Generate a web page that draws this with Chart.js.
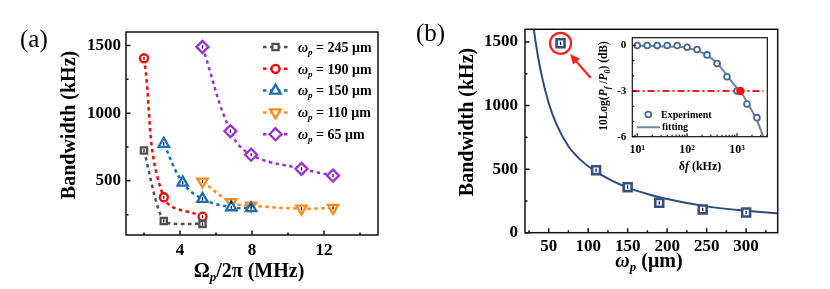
<!DOCTYPE html>
<html>
<head>
<meta charset="utf-8">
<script src="https://cdn.jsdelivr.net/npm/chart.js@4.4.1/dist/chart.umd.min.js"></script>
<style>
html, body { margin: 0; padding: 0; background: #fff; }
#wrap { position: relative; width: 830px; height: 289px; overflow: hidden; }
canvas { position: absolute; }
</style>
</head>
<body>
<div id="wrap">
  <canvas id="chartA" width="415" height="289" style="left:0;top:0"></canvas>
  <canvas id="chartB" width="415" height="289" style="left:415px;top:0"></canvas>
  <canvas id="chartInset" width="185" height="150" style="left:590px;top:25px"></canvas>
</div>
<script>
// Panel (a): bandwidth vs Omega_p/2pi (MHz), one series per beam waist
const rabi245 = [2.0, 3.1, 5.25];
const bw245 = [724, 204, 182];
const rabi190 = [2.0, 3.1, 5.25];
const bw190 = [1406, 379, 236];
const rabi150 = [3.1, 4.15, 5.25, 6.85, 7.95];
const bw150 = [774, 487, 367, 305, 298];
const rabi110 = [5.25, 6.85, 7.95, 10.75, 12.5];
const bw110 = [495, 342, 317, 295, 300];
const rabi65 = [5.25, 6.8, 7.95, 10.75, 12.5];
const bw65 = [1490, 868, 693, 589, 539];
const waistLabelsA = ['245', '190', '150', '110', '65'];
const xTicksA = [4, 8, 12];
const xMinorA = [2, 6, 10, 14];
const yTicksA = [500, 1000, 1500];
const yMinorA = [250, 750, 1250];

// Panel (b): bandwidth vs beam waist omega_p (um) + fitting curve
const waistB = [65, 110, 150, 190, 245, 300];
const bwB = [1490, 492, 358, 235, 183, 159];
const fitWaist = [30, 35, 40, 50, 60, 75, 90, 110, 130, 150, 175, 200, 250, 300, 340];
const fitBw = [1650, 1440, 1270, 1020, 850, 680, 575, 480, 410, 355, 305, 265, 207, 172, 152];
const xTicksB = [50, 100, 150, 200, 250, 300];
const xMinorB = [25, 75, 125, 175, 225, 275, 325];
const yTicksB = [0, 500, 1000, 1500];
const yMinorB = [250, 750, 1250];
// red circle + arrow pointing at the first point (data units)
const arrowFrom = [103, 1219];
const arrowTo = [77, 1405];

// Inset: 10Log(Pf/P0) vs detuning (kHz)
const expDf = [10, 15.8, 25.1, 39.8, 63.1, 100, 158, 251, 398, 631, 1000, 1585, 2512];
const expDb = [-0.02, -0.01, -0.02, -0.01, -0.02, -0.13, -0.28, -0.63, -1.2, -2.06, -3.0, -3.85, -4.75];
const fitDf = [10, 25, 63, 100, 158, 251, 398, 631, 1000, 1170, 1585, 2512, 3400];
const fitDb = [-0.03, -0.05, -0.1, -0.17, -0.33, -0.66, -1.16, -1.98, -2.8, -3.0, -3.72, -4.92, -6.05];
const halfDf = [1170];
const halfDb = [-3.0];
const refDf = [8, 3400];
const refDb = [-3, -3];
const xTicksIn = [10, 100, 1000];
const xTickLabelsIn = ['10\u00B9', '10\u00B2', '10\u00B3'];
const xMinorIn = [9, 20, 30, 40, 50, 60, 70, 80, 90, 200, 300, 400, 500, 600, 700, 800, 900, 2000, 3000, 4000];
const yTicksIn = [-6, -3, 0];
const yMinorIn = [-5, -4, -2, -1];

const SERIF = '"Liberation Serif", "Times New Roman", serif';
const font = (size, style) => `${style || 'bold'} ${size}px ${SERIF}`;
const pts = (xs, ys) => xs.map((x, i) => ({ x: x, y: ys[i] }));

// draw text made of several runs (for italics and subscripts)
function richText(ctx, parts, x, y, align, rot) {
    ctx.save();
    ctx.translate(x, y);
    if (rot) ctx.rotate(rot);
    ctx.textBaseline = 'alphabetic';
    ctx.textAlign = 'left';
    let total = 0;
    const widths = parts.map(p => {
        ctx.font = p.font;
        const w = ctx.measureText(p.t).width;
        total += w;
        return w;
    });
    let cx = align === 'center' ? -total / 2 : (align === 'right' ? -total : 0);
    parts.forEach((p, i) => {
        ctx.font = p.font;
        ctx.fillStyle = p.color || '#000';
        ctx.fillText(p.t, cx, p.dy || 0);
        cx += widths[i];
    });
    ctx.restore();
}

// box around plot + inward tick marks on bottom and left
function drawBox(chart, spec) {
    const ctx = chart.ctx, a = chart.chartArea;
    const sx = chart.scales.x, sy = chart.scales.y;
    ctx.save();
    ctx.setLineDash([]);
    ctx.strokeStyle = '#111';
    ctx.lineWidth = spec.lw || 1.5;
    ctx.beginPath();
    const tick = (vals, len, horiz) => vals.forEach(v => {
        if (horiz) {
            const p = sx.getPixelForValue(v);
            ctx.moveTo(p, a.bottom); ctx.lineTo(p, a.bottom - len);
        } else {
            const p = sy.getPixelForValue(v);
            ctx.moveTo(a.left, p); ctx.lineTo(a.left + len, p);
        }
    });
    tick(spec.xMajor, spec.major || 4.5, true);
    tick(spec.xMinor, spec.minor || 2.5, true);
    tick(spec.yMajor, spec.major || 4.5, false);
    tick(spec.yMinor, spec.minor || 2.5, false);
    ctx.stroke();
    ctx.strokeRect(a.left, a.top, a.right - a.left, a.bottom - a.top);
    ctx.restore();
}

// small black error bars in the middle of the markers
function drawErrTicks(chart) {
    const ctx = chart.ctx;
    ctx.save();
    ctx.setLineDash([]);
    ctx.strokeStyle = '#000';
    ctx.lineWidth = 1.2;
    chart.data.datasets.forEach((ds, i) => {
        if (!ds.errTick) return;
        chart.getDatasetMeta(i).data.forEach(p => {
            ctx.beginPath();
            ctx.moveTo(p.x, p.y - 1.6);
            ctx.lineTo(p.x, p.y + 1.6);
            ctx.stroke();
        });
    });
    ctx.restore();
}

function markerOf(ds, ctx, x, y) {
    ctx.save();
    ctx.setLineDash([]);
    ctx.fillStyle = ds.pointBackgroundColor;
    ctx.strokeStyle = ds.pointBorderColor;
    ctx.lineWidth = ds.pointBorderWidth;
    Chart.helpers.drawPoint(ctx, {
        pointStyle: ds.pointStyle, radius: ds.pointRadius,
        rotation: ds.pointRotation || 0, borderWidth: ds.pointBorderWidth
    }, x, y);
    ctx.restore();
}

function seriesA(xs, ys, color, style, radius, rot, tension) {
    return {
        data: pts(xs, ys), showLine: true,
        borderColor: color, borderWidth: 2.5, borderDash: [3.5, 3.5],
        tension: tension,
        pointStyle: style, pointRadius: radius, pointRotation: rot,
        pointBorderColor: color, pointBackgroundColor: '#fff', pointBorderWidth: 2.3,
        errTick: true
    };
}

function axisOpts(min, max, ticks, pad, size, fitFn, extra) {
    return Object.assign({
        type: 'linear', min: min, max: max,
        grid: { display: false, drawTicks: false },
        border: { display: false },
        ticks: { font: { family: SERIF, size: size, weight: 'bold' }, color: '#000', padding: pad,
                 autoSkip: false, maxRotation: 0, callback: v => String(v) },
        afterBuildTicks: s => { s.ticks = ticks.map(v => ({ value: v })); },
        afterFit: fitFn
    }, extra || {});
}

// ---- chart (a)
const colorsA = ['#505050', '#ff0000', '#1c6db3', '#ff8c1a', '#9c2fd2'];
new Chart(document.getElementById('chartA'), {
    type: 'scatter',
    data: {
        datasets: [
            seriesA(rabi245, bw245, colorsA[0], 'rect', 4.4, 0, 0.2),
            seriesA(rabi190, bw190, colorsA[1], 'circle', 4.0, 0, 0.4),
            seriesA(rabi150, bw150, colorsA[2], 'triangle', 6.0, 0, 0.4),
            seriesA(rabi110, bw110, colorsA[3], 'triangle', 6.0, 180, 0.4),
            seriesA(rabi65, bw65, colorsA[4], 'rectRot', 6.0, 0, 0.4)
        ]
    },
    options: {
        responsive: false, animation: false,
        layout: { padding: { left: 0, right: 37, top: 32, bottom: 0 } },
        plugins: { legend: { display: false }, tooltip: { enabled: false } },
        scales: {
            x: axisOpts(1, 15, xTicksA, 5, 17, s => { s.height = 54; }),
            y: axisOpts(100, 1600, yTicksA, 5, 17, s => { s.width = 126; })
        }
    },
    plugins: [{
        id: 'decorA',
        afterDatasetsDraw(chart) { drawErrTicks(chart); },
        afterDraw(chart) {
            const ctx = chart.ctx;
            drawBox(chart, { xMajor: xTicksA, xMinor: xMinorA, yMajor: yTicksA, yMinor: yMinorA });
            // legend
            chart.data.datasets.forEach((ds, i) => {
                const y = 47 + i * 21.8;
                ctx.save();
                ctx.strokeStyle = ds.borderColor;
                ctx.lineWidth = ds.borderWidth;
                ctx.setLineDash(ds.borderDash);
                ctx.beginPath(); ctx.moveTo(263, y); ctx.lineTo(288, y); ctx.stroke();
                ctx.restore();
                markerOf(ds, ctx, 275.5, y);
                richText(ctx, [
                    { t: '\u03C9', font: font(14, 'italic bold') },
                    { t: 'p', font: font(9, 'italic bold'), dy: 3 },
                    { t: ' = ' + waistLabelsA[i] + ' \u03BCm', font: font(14) }
                ], 298, y + 4.8, 'left');
            });
            richText(ctx, [{ t: '(a)', font: font(25, 'normal') }], 20, 47, 'left');
            richText(ctx, [{ t: 'Bandwidth (kHz)', font: font(20) }], 75, 125, 'center', -Math.PI / 2);
            richText(ctx, [
                { t: '\u03A9', font: font(20) },
                { t: 'p', font: font(13, 'italic bold'), dy: 4 },
                { t: '/2\u03C0 (MHz)', font: font(20) }
            ], 249, 277, 'center');
        }
    }]
});

// ---- chart (b)
const navy = '#34507f';
new Chart(document.getElementById('chartB'), {
    type: 'scatter',
    data: {
        datasets: [
            {
                data: pts(waistB, bwB), showLine: false,
                pointStyle: 'rect', pointRadius: 5.6, pointBorderWidth: 2.6,
                pointBorderColor: navy, pointBackgroundColor: '#fff', errTick: true
            },
            {
                data: pts(fitWaist, fitBw), showLine: true, pointRadius: 0,
                borderColor: '#2d4a7c', borderWidth: 2, cubicInterpolationMode: 'monotone'
            }
        ]
    },
    options: {
        responsive: false, animation: false,
        layout: { padding: { left: 0, right: 52.3, top: 29.3, bottom: 0 } },
        plugins: { legend: { display: false }, tooltip: { enabled: false } },
        scales: {
            x: axisOpts(20, 340, xTicksB, 4, 17, s => { s.height = 56.3; }),
            y: axisOpts(0, 1600, yTicksB, 7, 17, s => { s.width = 110; })
        }
    },
    plugins: [{
        id: 'decorB',
        afterDatasetsDraw(chart) {
            drawErrTicks(chart);
            const ctx = chart.ctx, sx = chart.scales.x, sy = chart.scales.y;
            ctx.save();
            ctx.strokeStyle = '#ff1e1e';
            ctx.fillStyle = '#ff1e1e';
            ctx.lineWidth = 2.2;
            ctx.beginPath();
            ctx.arc(sx.getPixelForValue(waistB[0]), sy.getPixelForValue(bwB[0]), 10.5, 0, Math.PI * 2);
            ctx.stroke();
            const x0 = sx.getPixelForValue(arrowFrom[0]), y0 = sy.getPixelForValue(arrowFrom[1]);
            const x1 = sx.getPixelForValue(arrowTo[0]), y1 = sy.getPixelForValue(arrowTo[1]);
            const ang = Math.atan2(y1 - y0, x1 - x0);
            const c = Math.cos(ang), s = Math.sin(ang);
            ctx.beginPath();
            ctx.moveTo(x0, y0);
            ctx.lineTo(x1 - 7 * c, y1 - 7 * s);
            ctx.stroke();
            ctx.beginPath();
            ctx.moveTo(x1, y1);
            ctx.lineTo(x1 - 10 * c + 4.5 * s, y1 - 10 * s - 4.5 * c);
            ctx.lineTo(x1 - 10 * c - 4.5 * s, y1 - 10 * s + 4.5 * c);
            ctx.closePath();
            ctx.fill();
            ctx.restore();
        },
        afterDraw(chart) {
            const ctx = chart.ctx;
            drawBox(chart, { xMajor: xTicksB, xMinor: xMinorB, yMajor: yTicksB, yMinor: yMinorB });
            ctx.save();
            ctx.translate(-415, 0);
            richText(ctx, [{ t: '(b)', font: font(25, 'normal') }], 416, 41, 'left');
            richText(ctx, [{ t: 'Bandwidth (kHz)', font: font(20) }], 473, 122, 'center', -Math.PI / 2);
            richText(ctx, [
                { t: '\u03C9', font: font(20, 'italic bold') },
                { t: 'p', font: font(13, 'italic bold'), dy: 4 },
                { t: ' (\u03BCm)', font: font(20) }
            ], 649, 267, 'center');
            ctx.restore();
        }
    }]
});

// ---- inset
const steel = '#4a6893';
new Chart(document.getElementById('chartInset'), {
    type: 'scatter',
    data: {
        datasets: [
            {
                data: pts(halfDf, halfDb), showLine: false,
                pointStyle: 'circle', pointRadius: 4.2, pointBorderWidth: 0,
                pointBackgroundColor: '#ff1010', pointBorderColor: '#ff1010'
            },
            {
                data: pts(expDf, expDb), showLine: false,
                pointStyle: 'circle', pointRadius: 2.9, pointBorderWidth: 1.8,
                pointBackgroundColor: '#fff', pointBorderColor: steel
            },
            {
                data: pts(refDf, refDb), showLine: true, pointRadius: 0,
                borderColor: '#ff1a1a', borderWidth: 2, borderDash: [7, 3, 2, 3]
            },
            {
                data: pts(fitDf, fitDb), showLine: true, pointRadius: 0,
                borderColor: '#6d86aa', borderWidth: 2, cubicInterpolationMode: 'monotone'
            }
        ]
    },
    options: {
        responsive: false, animation: false,
        layout: { padding: { left: 0, right: 7.7, top: 12.7, bottom: 0 } },
        plugins: { legend: { display: false }, tooltip: { enabled: false } },
        scales: {
            x: axisOpts(7.94, 4055, xTicksIn, 6, 12, s => { s.height = 38.3; }, {
                type: 'logarithmic',
                ticks: { font: { family: SERIF, size: 12, weight: 'bold' }, color: '#000', padding: 6,
                         autoSkip: false, maxRotation: 0, callback: (v, i) => xTickLabelsIn[i] }
            }),
            y: axisOpts(-6, 0.5, yTicksIn, 6, 11, s => { s.width = 42.3; })
        }
    },
    plugins: [{
        id: 'decorIn',
        beforeDatasetsDraw(chart) {
            const a = chart.chartArea, ctx = chart.ctx;
            ctx.save();
            ctx.fillStyle = '#fff';
            ctx.fillRect(a.left, a.top, a.right - a.left, a.bottom - a.top);
            ctx.restore();
        },
        afterDraw(chart) {
            const ctx = chart.ctx;
            drawBox(chart, { xMajor: xTicksIn, xMinor: xMinorIn, yMajor: yTicksIn, yMinor: yMinorIn,
                             major: 3.5, minor: 2, lw: 1.2 });
            ctx.save();
            ctx.translate(-590, -25);
            const expDs = chart.data.datasets[1], fitDs = chart.data.datasets[3];
            markerOf(expDs, ctx, 648.3, 114.5);
            richText(ctx, [{ t: 'Experiment', font: font(10) }], 661, 118.3, 'left');
            ctx.strokeStyle = fitDs.borderColor;
            ctx.lineWidth = fitDs.borderWidth;
            ctx.beginPath(); ctx.moveTo(637, 127.3); ctx.lineTo(660, 127.3); ctx.stroke();
            richText(ctx, [{ t: 'fitting', font: font(10) }], 662, 130.3, 'left');
            richText(ctx, [
                { t: '10Log(', font: font(11.5) },
                { t: 'P', font: font(11.5, 'italic bold') },
                { t: 'f', font: font(8, 'italic bold'), dy: 2.5 },
                { t: ' /', font: font(11.5) },
                { t: 'P', font: font(11.5, 'italic bold') },
                { t: '0', font: font(8, 'italic bold'), dy: 2.5 },
                { t: ') (dB)', font: font(11.5) }
            ], 607, 86, 'center', -Math.PI / 2);
            richText(ctx, [
                { t: '\u03B4', font: font(12) },
                { t: 'f', font: font(12, 'italic bold') },
                { t: ' (kHz)', font: font(12) }
            ], 700, 169.5, 'center');
            ctx.restore();
        }
    }]
});
</script>
</body>
</html>
